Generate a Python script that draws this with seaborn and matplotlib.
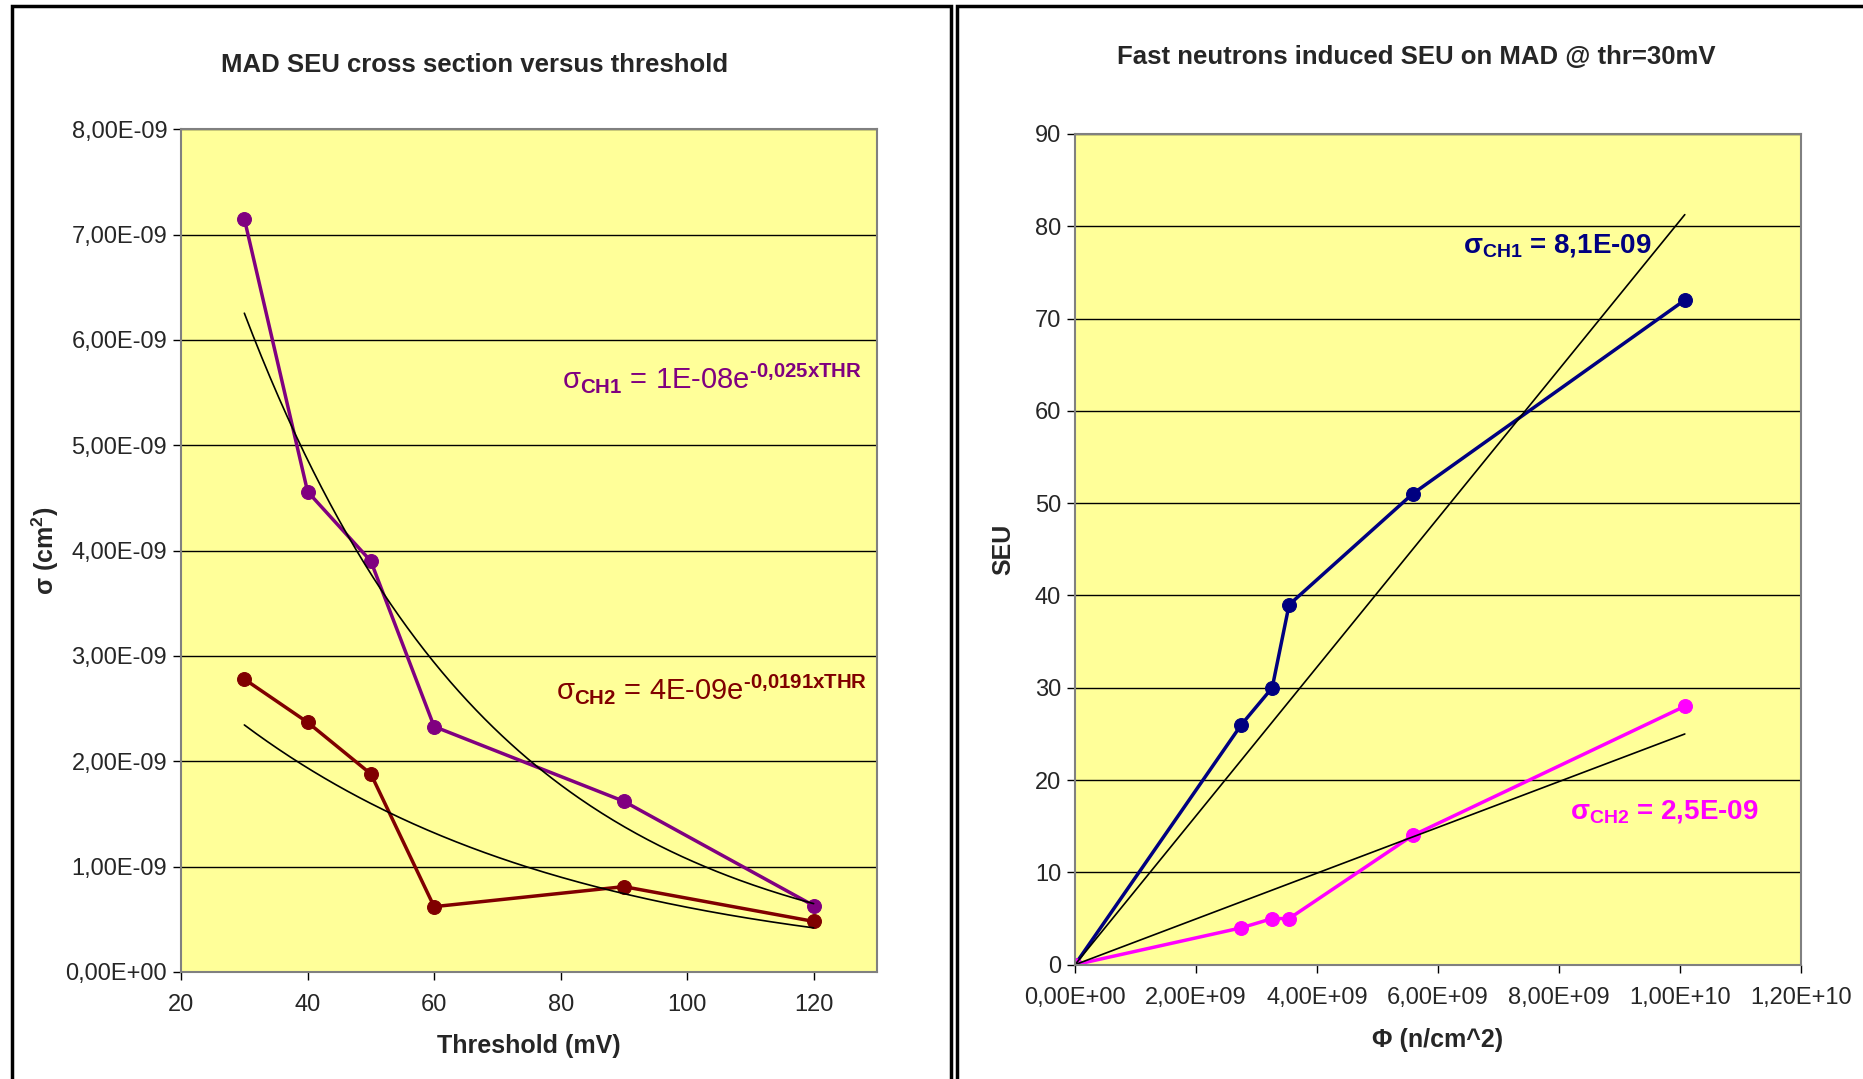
import numpy as np
import pandas as pd
import matplotlib
matplotlib.use("Agg")
import matplotlib.pyplot as plt
from matplotlib.patches import Rectangle
from matplotlib.ticker import FuncFormatter, MultipleLocator
import seaborn as sns

# ── data: SEU cross section vs threshold
thr = [30, 40, 50, 60, 90, 120]
sigma_ch1 = [7.15e-9, 4.56e-9, 3.90e-9, 2.33e-9, 1.62e-9, 0.63e-9]
sigma_ch2 = [2.78e-9, 2.37e-9, 1.88e-9, 0.62e-9, 0.81e-9, 0.48e-9]

# ── data: SEU count vs fluence
fluence = [0, 2.75e9, 3.26e9, 3.54e9, 5.58e9, 1.008e10]
seu_ch1 = [0, 26, 30, 39, 51, 72]
seu_ch2 = [0, 4, 5, 5, 14, 28]

sns.set_style("white")
plt.rcParams['font.family'] = ['Liberation Sans', 'DejaVu Sans']
plt.rcParams['mathtext.fontset'] = 'custom'
plt.rcParams['mathtext.rm'] = 'Liberation Sans'
plt.rcParams['mathtext.it'] = 'Liberation Sans'
plt.rcParams['mathtext.bf'] = 'Liberation Sans:bold'

plot_bg = "#FFFF99"
purple, dred, navy, magenta = "#800080", "#800000", "#000080", "#FF00FF"
HY = "\u2010"  # plain hyphen inside mathtext

fig = plt.figure(figsize=(18.63, 10.79), dpi=100)
fig.patch.set_facecolor("white")

# panel frames (bottom and right edges run off the picture)
fig.add_artist(Rectangle((12/1863, -0.05), (951-12)/1863, 1.05 - 6/1079,
                         transform=fig.transFigure, fill=False, ec='black', lw=2.5))
fig.add_artist(Rectangle((957/1863, -0.05), 0.6, 1.05 - 6/1079,
                         transform=fig.transFigure, fill=False, ec='black', lw=2.5))

sci = FuncFormatter(lambda v, p: f"{v:.2E}".replace('.', ','))


def style_axes(ax):
    ax.set_facecolor(plot_bg)
    for s in ax.spines.values():
        s.set_color('#808080')
        s.set_linewidth(1.5)
    ax.grid(axis='y', color='black', linewidth=1)
    ax.grid(axis='x', visible=False)
    ax.tick_params(axis='both', direction='out', length=6, width=1, color='black',
                   labelsize=17, left=True, bottom=True)
    ax.tick_params(axis='x', pad=10)
    ax.tick_params(axis='y', pad=4)
    ax.set_axisbelow(True)


# ── (a) cross section vs threshold
ax1 = fig.add_axes([0.0972, 0.0992, 0.3735, 0.781])
style_axes(ax1)
df1 = pd.DataFrame({'thr': thr, 'ch1': sigma_ch1, 'ch2': sigma_ch2})
sns.lineplot(data=df1, x='thr', y='ch1', ax=ax1, color=purple, lw=2.5,
             marker='o', markersize=10, markeredgecolor=purple)
sns.lineplot(data=df1, x='thr', y='ch2', ax=ax1, color=dred, lw=2.5,
             marker='o', markersize=10, markeredgecolor=dred)
# exponential trend lines (least squares on log)
xs = np.linspace(min(thr), max(thr), 200)
for col in ['ch1', 'ch2']:
    k, b = np.polyfit(df1['thr'], np.log(df1[col]), 1)
    sns.lineplot(x=xs, y=np.exp(b + k * xs), ax=ax1, color='black', lw=1.2)
ax1.set_xlim(20, 130)
ax1.set_ylim(0, 8e-9)
ax1.set_xticks([20, 40, 60, 80, 100, 120])
ax1.yaxis.set_major_locator(MultipleLocator(1e-9))
ax1.yaxis.set_major_formatter(sci)
ax1.set_xlabel('Threshold (mV)', fontsize=18, fontweight='bold', labelpad=13)
ax1.set_ylabel(r'σ (cm$^\mathbf{2}$)', fontsize=18, fontweight='bold', labelpad=3)
ax1.text(80.2, 5.64e-9,
         r'σ$_{\mathbf{CH1}}$ = 1E-08e$^{\mathbf{' + HY + r'0{,}025xTHR}}$',
         color=purple, fontsize=21, va='center', ha='left')
ax1.text(79.3, 2.69e-9,
         r'σ$_{\mathbf{CH2}}$ = 4E-09e$^{\mathbf{' + HY + r'0{,}0191xTHR}}$',
         color=dred, fontsize=21, va='center', ha='left')
fig.text(475/1863, 1 - 65/1079, 'MAD SEU cross section versus threshold',
         ha='center', va='center', fontsize=18.5, fontweight='bold')

# ── (b) SEU vs fluence
ax2 = fig.add_axes([0.577, 0.1059, 0.3897, 0.770])
style_axes(ax2)
df2 = pd.DataFrame({'phi': fluence, 'ch1': seu_ch1, 'ch2': seu_ch2})
sns.lineplot(data=df2, x='phi', y='ch1', ax=ax2, color=navy, lw=2.5,
             marker='o', markersize=10, markeredgecolor=navy)
sns.lineplot(data=df2, x='phi', y='ch2', ax=ax2, color=magenta, lw=2.5,
             marker='o', markersize=10, markeredgecolor=magenta)
# linear trend through origin
xl = np.array([0, max(fluence)])
for col in ['ch1', 'ch2']:
    slope = np.sum(df2['phi'] * df2[col]) / np.sum(df2['phi'] ** 2)
    sns.lineplot(x=xl, y=slope * xl, ax=ax2, color='black', lw=1.2)
ax2.set_xlim(0, 1.2e10)
ax2.set_ylim(0, 90)
ax2.xaxis.set_major_locator(MultipleLocator(2e9))
ax2.xaxis.set_major_formatter(sci)
ax2.yaxis.set_major_locator(MultipleLocator(10))
ax2.set_xlabel('Φ (n/cm^2)', fontsize=18, fontweight='bold', labelpad=14)
ax2.set_ylabel('SEU', fontsize=18, fontweight='bold', labelpad=14)
ax2.text(6.42e9, 77.9, r'σ$_{\mathbf{CH1}}$ = 8,1E-09', color=navy, fontsize=20,
         fontweight='bold', va='center', ha='left')
ax2.text(8.19e9, 16.6, r'σ$_{\mathbf{CH2}}$ = 2,5E-09', color=magenta, fontsize=20,
         fontweight='bold', va='center', ha='left')
fig.text(1416/1863, 1 - 57/1079, 'Fast neutrons induced SEU on MAD @ thr=30mV',
         ha='center', va='center', fontsize=18.5, fontweight='bold')

plt.savefig('out.png', dpi=100, facecolor='white')
plt.close()
